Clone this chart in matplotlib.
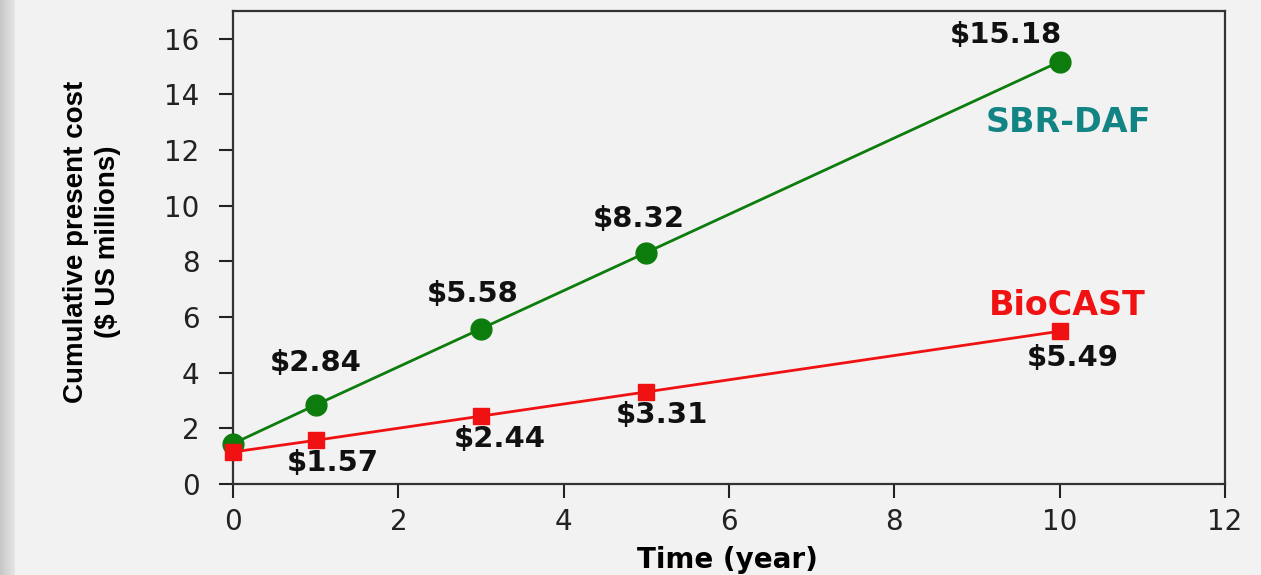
import matplotlib.pyplot as plt
import numpy as np

# data
years = [0, 1, 3, 5, 10]
sbr_daf = [1.45, 2.84, 5.58, 8.32, 15.18]
biocast = [1.15, 1.57, 2.44, 3.31, 5.49]

sbr_labels = ["", "$2.84", "$5.58", "$8.32", "$15.18"]
bio_labels = ["", "$1.57", "$2.44", "$3.31", "$5.49"]

# label offsets in pixels (dx, dy), layout only
sbr_off = [(0, 0), (0, 42), (-8, 35), (-8, 34), (-54, 27)]
bio_off = [(0, 0), (17, -23), (19, -23), (16, -23), (13, -27)]

plt.rcParams['font.family'] = ['DejaVu Sans']

bg = '#f2f2f2'
fig = plt.figure(figsize=(12.61, 5.75), dpi=100, facecolor=bg)

# grey strip on the left edge
strip = fig.add_axes([0, 0, 15 / 1261, 1])
grad = np.linspace(0.78, 0.90, 50).reshape(1, -1)
strip.imshow(np.dstack([grad, grad, grad]), aspect='auto', extent=[0, 1, 0, 1])
strip.axis('off')

ax = fig.add_axes([233 / 1261, 1 - 484 / 575, (1225 - 233) / 1261, (484 - 11) / 575])
ax.set_facecolor(bg)

green = '#0c7c0c'
red = '#f01212'

ax.plot(years, sbr_daf, color=green, lw=2, marker='o', markersize=15, zorder=3, clip_on=False)
ax.plot(years, biocast, color=red, lw=2, marker='s', markersize=11.5, zorder=4, clip_on=False)

k = 72 / 100
for x, y, t, (dx, dy) in zip(years, sbr_daf, sbr_labels, sbr_off):
    if t:
        ax.annotate(t, (x, y), xytext=(dx * k, dy * k), textcoords='offset points',
                    ha='center', va='center', fontsize=21, fontweight='bold', color='#111111')
for x, y, t, (dx, dy) in zip(years, biocast, bio_labels, bio_off):
    if t:
        ax.annotate(t, (x, y), xytext=(dx * k, dy * k), textcoords='offset points',
                    ha='center', va='center', fontsize=21, fontweight='bold', color='#111111')

ax.text(10.11, 13.0, "SBR-DAF", color='#138484', fontsize=24, fontweight='bold', ha='center', va='center')
ax.text(10.09, 6.43, "BioCAST", color=red, fontsize=24, fontweight='bold', ha='center', va='center')

ax.set_xlim(0, 12)
ax.set_ylim(0, 17)
ax.set_xticks(range(0, 13, 2))
ax.set_yticks(range(0, 17, 2))
ax.tick_params(direction='out', length=10, width=1.5, labelsize=20, colors='#222222')
ax.tick_params(axis='y', pad=14)
ax.tick_params(axis='x', pad=7)
for s in ax.spines.values():
    s.set_color('#333333')
    s.set_linewidth(1.6)

ax.set_xlabel("Time (year)", fontsize=20, fontweight='bold', va='center')
ax.xaxis.set_label_coords(0.498, -0.161)
ax.set_ylabel("Cumulative present cost\n($ US millions)", fontsize=20, fontweight='bold',
              family=['Liberation Sans'], linespacing=1.3, va='center')
ax.yaxis.set_label_coords(-0.142, 0.512)

plt.savefig("out.png", dpi=100, facecolor=bg)
